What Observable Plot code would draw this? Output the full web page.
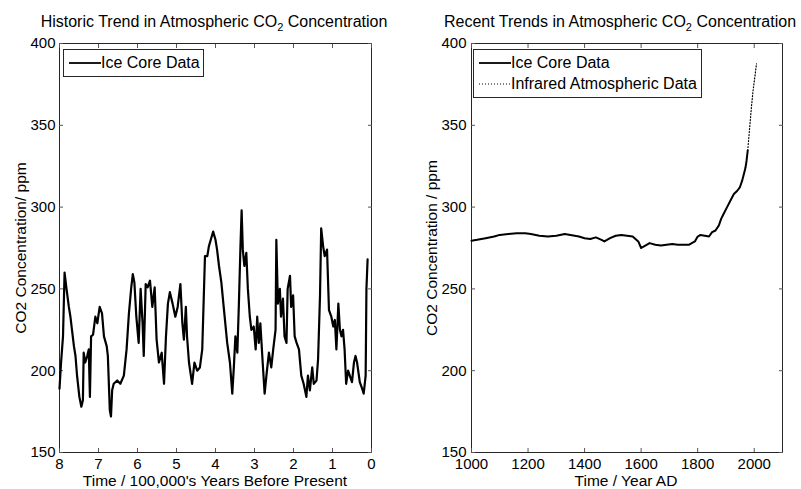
<!DOCTYPE html>
<html>
<head>
<meta charset="utf-8">
<script src="https://cdn.jsdelivr.net/npm/d3@7"></script>
<script src="https://cdn.jsdelivr.net/npm/@observablehq/plot@0.6"></script>
<style>
  body { margin: 0; background: #fff; }
  #wrap { position: relative; width: 801px; height: 489px; overflow: hidden; background: #fff;
          font-family: "Liberation Sans", Arial, Helvetica, sans-serif; color: #000; }
  .panel { position: absolute; top: 0; }
  .title { position: absolute; font-size: 16px; line-height: 16px; white-space: nowrap; transform: translateX(-50%); }
  .title sub { font-size: 11px; vertical-align: -4px; line-height: 0; }
  .xlabel { position: absolute; font-size: 15.5px; line-height: 15.5px; white-space: nowrap; transform: translateX(-50%); }
  .ylabel { position: absolute; font-size: 15.5px; line-height: 15.5px; white-space: nowrap;
            transform: translate(-50%, -50%) rotate(-90deg); }
  .legend { position: absolute; box-sizing: border-box; border: 1px solid #262626; background: #fff; }
  .legend .row { position: absolute; left: 0; font-size: 16px; line-height: 16px; white-space: nowrap; }
  .legend svg { position: absolute; }
</style>
</head>
<body>
<div id="wrap"></div>
<script>
// EPICA-style ice core record: age in units of 100,000 years before present, CO2 in ppm
const historicAge = [8.00,7.96,7.91,7.87,7.82,7.76,7.72,7.68,7.63,7.59,7.55,7.49,7.44,7.40,7.38,7.34,7.29,7.25,7.22,7.19,
  7.14,7.08,7.03,6.97,6.91,6.86,6.79,6.76,6.71,6.68,6.65,6.61,6.52,6.44,6.35,6.28,6.22,6.16,6.12,6.08,
  6.03,5.97,5.92,5.87,5.84,5.79,5.74,5.68,5.62,5.56,5.51,5.45,5.38,5.32,5.27,5.22,5.17,5.10,5.03,4.97,
  4.90,4.85,4.81,4.76,4.73,4.68,4.60,4.54,4.47,4.40,4.34,4.27,4.21,4.17,4.11,4.06,4.00,3.96,3.91,3.85,
  3.79,3.70,3.63,3.57,3.53,3.49,3.44,3.40,3.36,3.33,3.30,3.26,3.21,3.17,3.12,3.08,3.02,2.97,2.93,2.89,
  2.85,2.79,2.74,2.69,2.63,2.57,2.52,2.46,2.44,2.40,2.35,2.32,2.27,2.23,2.18,2.15,2.09,2.06,2.01,1.97,
  1.92,1.86,1.80,1.74,1.67,1.63,1.58,1.52,1.48,1.41,1.37,1.32,1.29,1.24,1.20,1.14,1.09,1.03,0.98,0.94,
  0.90,0.85,0.81,0.77,0.73,0.69,0.65,0.60,0.50,0.45,0.41,0.37,0.30,0.24,0.20,0.15,0.13,0.10];
const historicCO2 = [189,205,221,260,250,239,233,225,215,209,197,184,178,182,211,205,209,213,184,221,
  222,233,229,239,235,221,215,209,176,172,188,192,194,192,197,213,235,251,259,254,
  233,217,250,229,209,253,251,255,239,251,219,205,211,192,221,241,248,241,233,239,
  253,229,219,239,221,205,192,205,200,202,213,270,270,276,281,285,280,274,264,254,
  239,217,205,186,202,221,211,241,276,298,274,264,272,250,233,225,227,213,233,217,
  229,205,186,198,211,202,213,225,280,241,250,233,244,221,217,250,258,239,246,221,
  217,213,197,192,184,197,188,202,192,194,207,246,287,276,270,274,237,233,227,231,
  213,241,225,221,225,213,192,200,193,205,209,205,193,189,186,197,250,268];

// Last millennium: ice core years AD and CO2 (ppm)
const iceYear = [1000,1020,1050,1080,1100,1130,1160,1190,1210,1240,1270,1300,1330,1350,1380,1400,1420,1440,1460,1470,
  1490,1510,1530,1550,1570,1590,1600,1610,1630,1650,1670,1690,1710,1730,1750,1770,1790,1800,1810,1825,
  1840,1851,1863,1875,1883,1892,1904,1916,1928,1940,1949,1957,1963,1969,1973,1977];
const iceCO2 = [279.5,280,281,282,283,283.5,284,284,283.5,282.5,282,282.5,283.5,283,282,281,280.5,281.5,280,279,
  281,282.5,283,282.5,282,279,275,276,278,277,276.5,277,277.5,277,277,277,279,282,283,282.5,
  282,284.7,285.7,288.8,292.8,295.9,300,304,308,310,312,316,320,324,328.5,334.6];

// Infrared atmospheric measurements
const irYear = [1977,1984,1990,1996,2002,2008];
const irCO2 = [334.6,348.8,361,371.3,379.4,387.6];

// Axis ticks
const yTicks = [150,200,250,300,350,400];
const historicTicks = [8,7,6,5,4,3,2,1,0];
const recentTicks = [1000,1200,1400,1600,1800,2000];

const historic = historicAge.map((a, i) => ({age: a, co2: historicCO2[i]}));
const ice = iceYear.map((y, i) => ({year: y, co2: iceCO2[i]}));
const infrared = irYear.map((y, i) => ({year: y, co2: irCO2[i]}));

const FONT = "Liberation Sans, Arial, Helvetica, sans-serif";
const INK = "#262626";
const plain = d => String(d);

// MATLAB-style boxed axes: labels outside, ticks pointing inward on all four sides
function boxAxes(xTicks, yPad) {
  const t = 4;
  return [
    Plot.frame({stroke: INK}),
    Plot.axisY(yTicks, {anchor: "left", tickSize: 0, tickPadding: yPad, fontSize: 15, fill: "#000",
      tickFormat: plain, label: null}),
    Plot.axisY(yTicks, {anchor: "left", tickSize: t, dx: t, stroke: "#555", tickFormat: () => "", label: null}),
    Plot.axisY(yTicks, {anchor: "right", tickSize: t, dx: -t, stroke: "#555", tickFormat: () => "", label: null}),
    Plot.axisX(xTicks, {anchor: "bottom", tickSize: 0, tickPadding: 6, fontSize: 15, fill: "#000",
      tickFormat: plain, label: null}),
    Plot.axisX(xTicks, {anchor: "bottom", tickSize: t, dy: -t, stroke: "#555", tickFormat: () => "", label: null}),
    Plot.axisX(xTicks, {anchor: "top", tickSize: t, dy: t, stroke: "#555", tickFormat: () => "", label: null})
  ];
}

const left = Plot.plot({
  width: 400, height: 489,
  marginLeft: 59, marginRight: 29, marginTop: 43, marginBottom: 37,
  style: {fontFamily: FONT, background: "transparent", color: "#000"},
  x: {domain: [8, 0]},
  y: {domain: [150, 400]},
  marks: [
    ...boxAxes(historicTicks, 4),
    Plot.line(historic, {x: "age", y: "co2", stroke: "#000", strokeWidth: 2.2})
  ]
});

const right = Plot.plot({
  width: 401, height: 489,
  marginLeft: 71, marginRight: 19, marginTop: 43, marginBottom: 37,
  style: {fontFamily: FONT, background: "transparent", color: "#000"},
  x: {domain: [1000, 2100]},
  y: {domain: [150, 400]},
  marks: [
    ...boxAxes(recentTicks, 5),
    Plot.line(ice, {x: "year", y: "co2", stroke: "#000", strokeWidth: 2}),
    Plot.line(infrared, {x: "year", y: "co2", stroke: "#000", strokeWidth: 1.2, strokeDasharray: "1,2"})
  ]
});

const wrap = document.getElementById("wrap");
left.classList.add("panel"); left.style.left = "0px";
right.classList.add("panel"); right.style.left = "400px";
wrap.append(left, right);

function addText(cls, html, x, y) {
  const d = document.createElement("div");
  d.className = cls;
  d.innerHTML = html;
  d.style.left = x + "px";
  d.style.top = y + "px";
  wrap.append(d);
}
// Titles
addText("title", "Historic Trend in Atmospheric CO<sub>2</sub> Concentration", 214, 14);
addText("title", "Recent Trends in Atmospheric CO<sub>2</sub> Concentration", 620, 14);
// Axis labels
addText("xlabel", "Time / 100,000's Years Before Present", 215, 473);
addText("xlabel", "Time / Year AD", 626, 473);
addText("ylabel", "CO2 Concentration/ ppm", 21, 248);
addText("ylabel", "CO2 Concentration / ppm", 432, 248);

// Legends
function addLegend(x, y, w, entries) {
  const box = document.createElement("div");
  box.className = "legend";
  const rowH = 21;
  box.style.left = x + "px";
  box.style.top = y + "px";
  box.style.width = w + "px";
  box.style.height = (entries.length * rowH + 7) + "px";
  entries.forEach((e, i) => {
    const cy = 12.5 + i * rowH;
    const s = document.createElementNS("http://www.w3.org/2000/svg", "svg");
    s.setAttribute("width", 34); s.setAttribute("height", 6);
    s.style.left = "4px"; s.style.top = (cy - 3) + "px";
    const ln = document.createElementNS("http://www.w3.org/2000/svg", "line");
    ln.setAttribute("x1", 1); ln.setAttribute("x2", 33); ln.setAttribute("y1", 3); ln.setAttribute("y2", 3);
    ln.setAttribute("stroke", "#000");
    ln.setAttribute("stroke-width", e.dash ? 1.2 : 1.8);
    if (e.dash) ln.setAttribute("stroke-dasharray", e.dash);
    s.append(ln);
    box.append(s);
    const t = document.createElement("div");
    t.className = "row";
    t.textContent = e.label;
    t.style.left = "37px";
    t.style.top = (cy - 8) + "px";
    box.append(t);
  });
  wrap.append(box);
}
addLegend(63, 49, 141, [{label: "Ice Core Data"}]);
addLegend(473, 49, 229, [{label: "Ice Core Data"}, {label: "Infrared Atmospheric Data", dash: "1,2"}]);
</script>
</body>
</html>
